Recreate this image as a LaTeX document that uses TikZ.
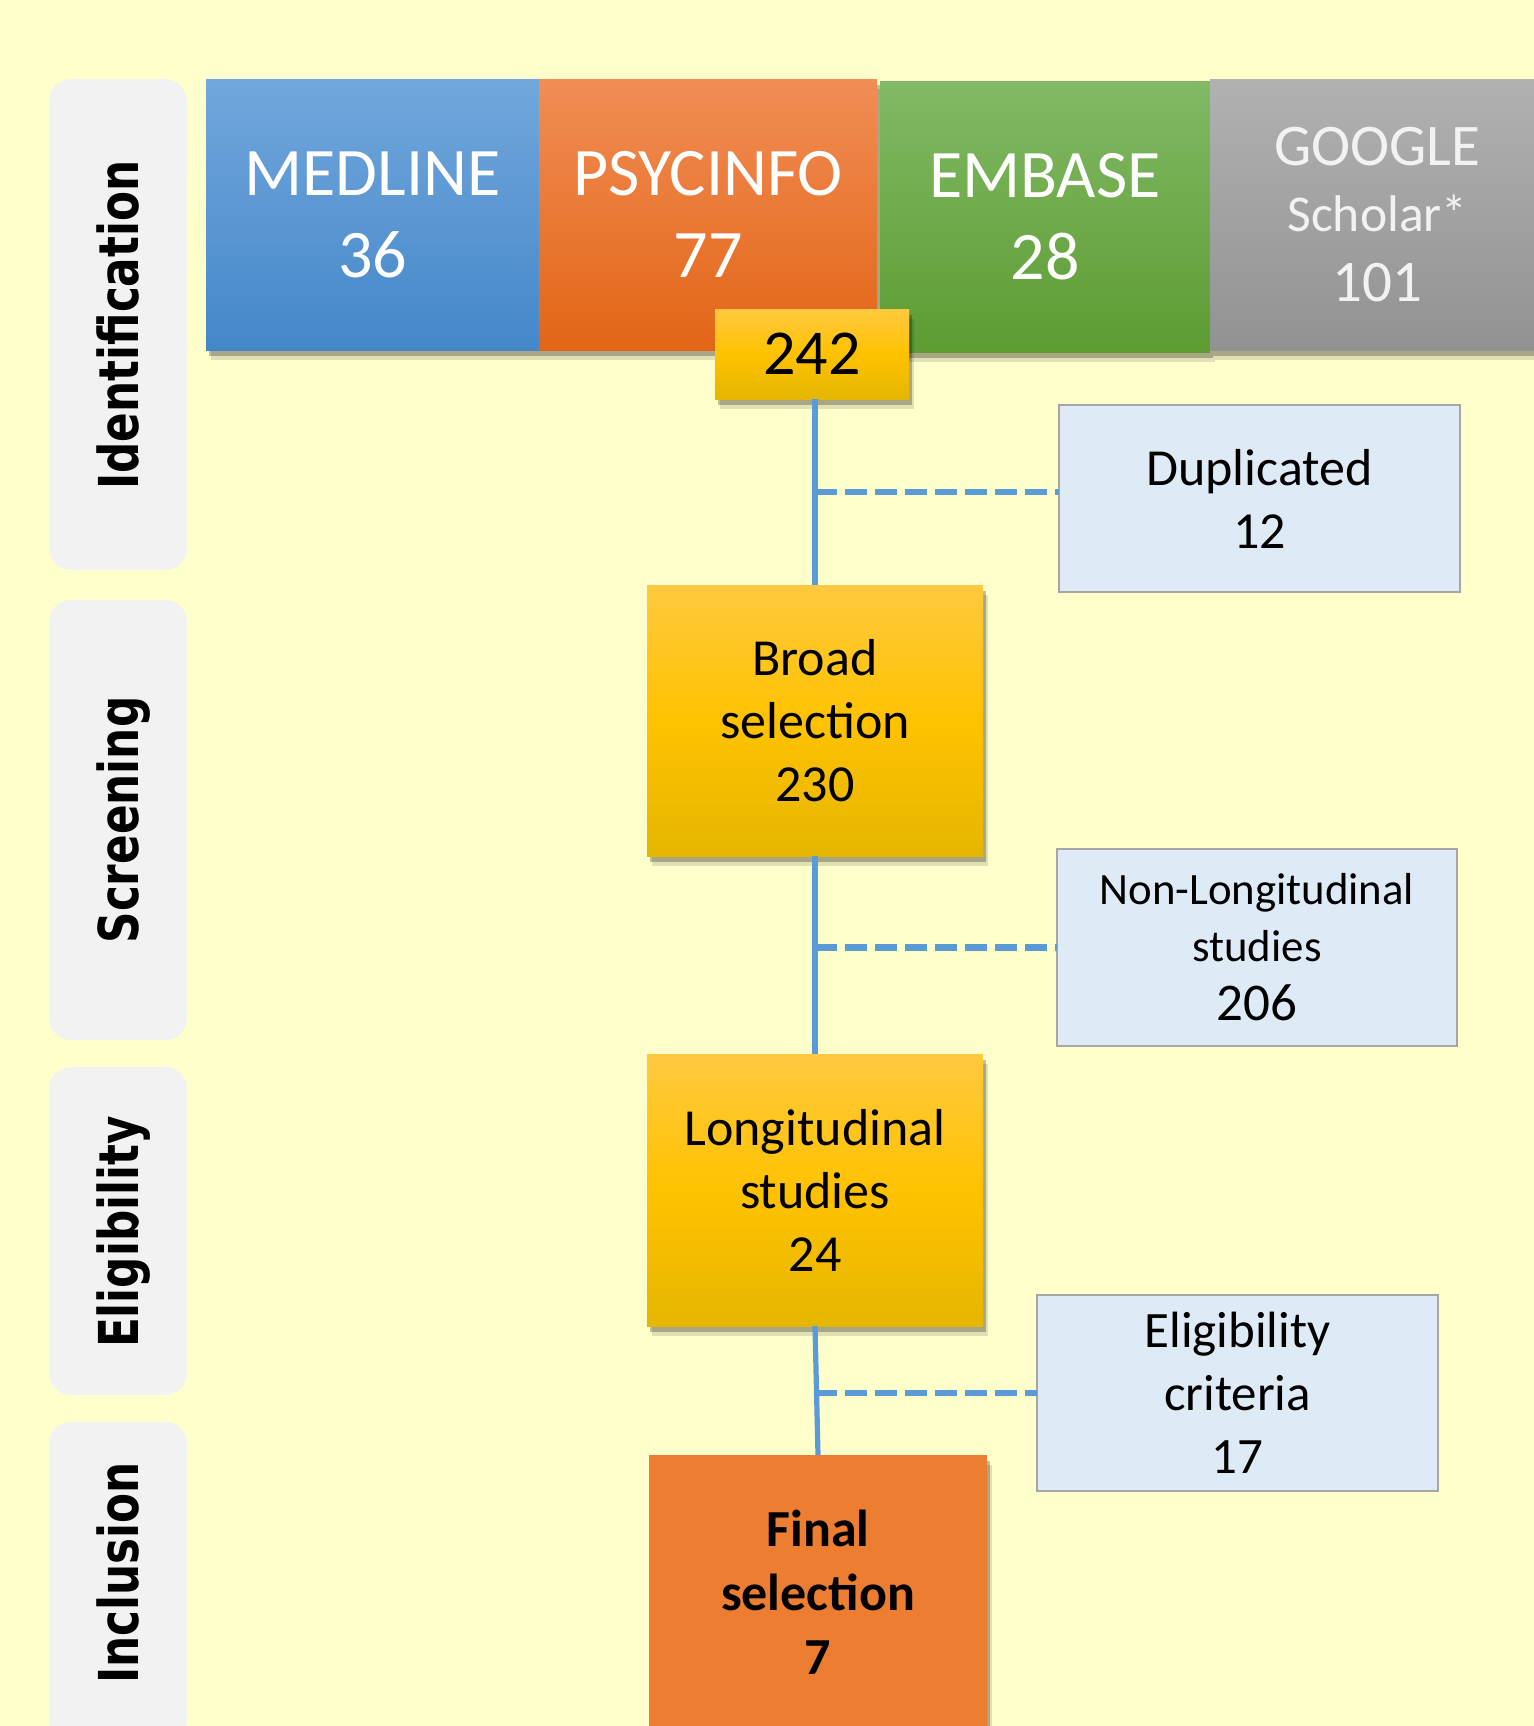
\documentclass[tikz,border=0pt]{standalone}
\usepackage{fontspec}
\setmainfont{Carlito}
\newfontfamily\sidefont{DejaVu Sans}
\usepackage{graphicx}
\usetikzlibrary{shadows}
\definecolor{bg}{HTML}{FFFFCC}
\definecolor{sidegray}{HTML}{F2F2F2}
\definecolor{blueT}{HTML}{72A7DC}
\definecolor{blueB}{HTML}{4487C9}
\definecolor{orT}{HTML}{F18D55}
\definecolor{orB}{HTML}{E26516}
\definecolor{grT}{HTML}{82B965}
\definecolor{grB}{HTML}{5C9C32}
\definecolor{gyT}{HTML}{B1B1B1}
\definecolor{gyB}{HTML}{929292}
\definecolor{yeT}{HTML}{FFC940}
\definecolor{yeM}{HTML}{FFC200}
\definecolor{yeB}{HTML}{E5B600}
\definecolor{lightbox}{HTML}{DEEAF6}
\definecolor{lightedge}{HTML}{A6A6A6}
\definecolor{finalor}{HTML}{ED7D31}
\definecolor{conncol}{HTML}{5B9BD5}
\begin{document}
\begin{tikzpicture}[x=0.5pt,y=-0.5pt,
  box/.style={rectangle, inner sep=0pt, outer sep=0pt, anchor=north west, align=center},
  sh/.style={drop shadow={shadow xshift=2.5pt, shadow yshift=-5pt, opacity=0.12, fill=black},
             drop shadow={shadow xshift=1.5pt, shadow yshift=-3pt, opacity=0.25, fill=black}},
  sidebox/.style={rectangle, rounded corners=11pt, fill=sidegray, inner sep=0pt, outer sep=0pt, anchor=north west, minimum width=69pt},
  sidelab/.style={rotate=90, anchor=base, inner sep=0pt, font=\sidefont\bfseries\fontsize{27.5}{33}\selectfont},
  topfont/.style={font=\fontsize{34}{41}\selectfont, text=white},
  midfont/.style={font=\fontsize{26}{31.5}\selectfont},
  yellowbox/.style={box, sh, top color=yeT, bottom color=yeB, middle color=yeM},
  lbox/.style={box, fill=lightbox, draw=lightedge, line width=0.8pt},
  conn/.style={draw=conncol, line width=2.6pt},
  dconn/.style={draw=conncol, line width=3.4pt, dash pattern=on 11pt off 4pt}
]
\clip (0,0) rectangle (1534,1726);
\path[use as bounding box, fill=bg] (0,0) rectangle (1534,1726);

% side boxes
\node[sidebox, minimum height=245.5pt] (sb1) at (49,79) {};
\node[sidebox, minimum height=220pt] (sb2) at (49,600) {};
\node[sidebox, minimum height=164pt] (sb3) at (49,1067) {};
\node[sidebox, minimum height=160pt] (sb4) at (49,1422) {};
\node[sidelab] (l1) at (138,325) {\scalebox{0.795}[1]{Identification}};
\node[sidelab] (l2) at (138,820) {\scalebox{0.795}[1]{Screening}};
\node[sidelab] (l3) at (138,1232) {\scalebox{0.795}[1]{Eligibility}};
\node[sidelab] (l4) at (138,1573) {\scalebox{0.795}[1]{Inclusion}};

% sources
\node[box, sh, top color=blueT, bottom color=blueB, topfont, minimum width=166.5pt, minimum height=135.5pt] (med) at (206,79) {MEDLINE\\36};
\node[box, sh, top color=orT, bottom color=orB, topfont, minimum width=169pt, minimum height=135.5pt] (psy) at (539,79) {PSYCINFO\\77};
\node[box, sh, top color=grT, bottom color=grB, topfont, minimum width=165pt, minimum height=135.5pt] (emb) at (880,81) {EMBASE\\28};
\node[box, sh, top color=gyT, bottom color=gyB, text=sidegray, minimum width=167.5pt, minimum height=135.5pt,
      font=\fontsize{29.5}{33}\selectfont] (goo) at (1210,79)
  {GOOGLE\\{\fontsize{25.8}{33}\selectfont Scholar*}\\[2pt]101};

\node[yellowbox, font=\fontsize{32}{38}\selectfont, minimum width=97pt, minimum height=45pt] (n242) at (715,309) {242};

% excluded boxes
\node[lbox, midfont, minimum width=200.5pt, minimum height=93.5pt] (dup) at (1059,405) {Duplicated\\12};
\node[lbox, font=\fontsize{22.4}{28.5}\selectfont, minimum width=200pt, minimum height=98.5pt] (nonlong) at (1057,849) {Non-Longitudinal\\studies\\[1pt]{\fontsize{26.5}{28.5}\selectfont 206}};
\node[lbox, font=\fontsize{25.5}{31.5}\selectfont, minimum width=200.5pt, minimum height=98pt] (elig) at (1037,1295) {Eligibility\\criteria\\17};

% main flow
\node[yellowbox, midfont, minimum width=168pt, minimum height=135.5pt] (broad) at (647,585) {Broad\\selection\\230};
\node[yellowbox, midfont, minimum width=168pt, minimum height=136pt] (long) at (647,1054) {Longitudinal\\studies\\24};
\node[box, sh, fill=finalor, font=\bfseries\fontsize{26}{32}\selectfont, minimum width=169pt, minimum height=137pt] (final) at (649,1455) {Final\\selection\\7};

% connectors
\draw[conn] (broad.north |- n242.south) -- (broad.north);
\coordinate (j1) at (815,492);
\draw[dconn] (j1) -- (j1 -| dup.west);
\draw[conn] (broad.south) -- (long.north);
\draw[dconn] (broad.south |- nonlong.west) -- (nonlong.west);
\draw[conn] (long.south) -- (final.north);
\draw[dconn] (long.south |- elig.west) -- (elig.west);
\end{tikzpicture}
\end{document}
